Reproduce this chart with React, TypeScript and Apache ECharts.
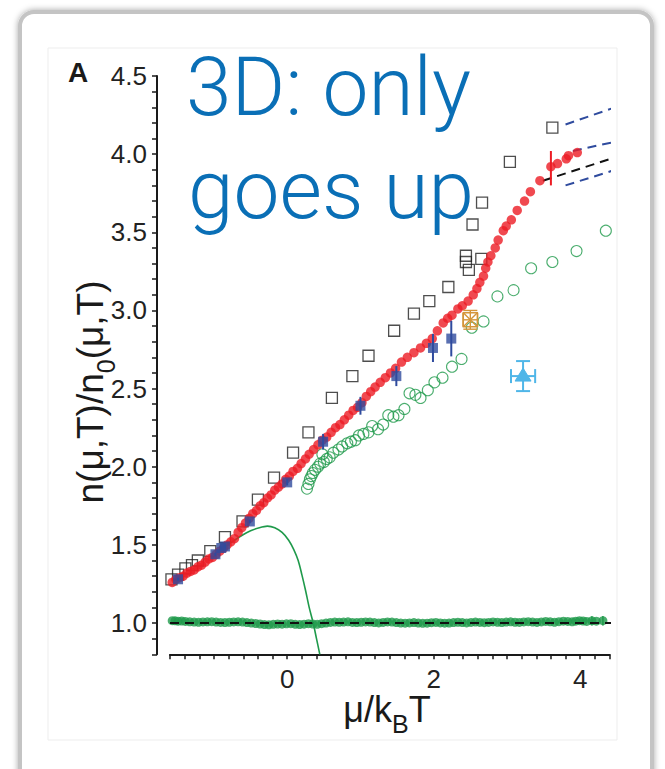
import React, { useEffect, useRef } from "react";
import * as echarts from "echarts";

// Red filled circles: measured density ratio
const redX = [-1.57,-1.52,-1.47,-1.42,-1.37,-1.32,-1.27,-1.22,-1.17,-1.12,-1.07,-1.02,-0.97,-0.92,-0.87,-0.82,-0.77,-0.72,-0.67,-0.62,-0.57,-0.52,-0.47,-0.42,-0.37,-0.32,-0.27,-0.22,-0.17,-0.12,-0.07,-0.02,0.03,0.08,0.14,0.19,0.25,0.30,0.36,0.42,0.48,0.54,0.60,0.66,0.72,0.78,0.84,0.90,0.96,1.02,1.08,1.14,1.20,1.27,1.34,1.41,1.48,1.56,1.64,1.73,1.82,1.90,1.98,2.05,2.13,2.19,2.25,2.33,2.39,2.47,2.54,2.59,2.63,2.68,2.71,2.74,2.78,2.84,2.88,2.95,2.99,3.06,3.14,3.24,3.32,3.45,3.60,3.69,3.81,3.84,3.96];
const redY = [1.26,1.28,1.29,1.30,1.32,1.33,1.34,1.36,1.37,1.39,1.41,1.42,1.44,1.46,1.48,1.50,1.52,1.54,1.58,1.61,1.64,1.67,1.70,1.72,1.75,1.77,1.80,1.82,1.85,1.87,1.89,1.92,1.94,1.97,1.99,2.02,2.05,2.08,2.11,2.14,2.17,2.19,2.22,2.25,2.27,2.30,2.33,2.36,2.38,2.41,2.45,2.48,2.51,2.54,2.57,2.60,2.63,2.67,2.70,2.73,2.76,2.79,2.82,2.87,2.92,2.95,2.97,3.01,3.03,3.06,3.10,3.14,3.18,3.22,3.27,3.31,3.35,3.40,3.45,3.51,3.54,3.58,3.64,3.70,3.76,3.83,3.92,3.94,3.97,3.99,4.01];
// Red vertical error bar: [x, y, xErr, yErr]
const redErr = [[3.6, 3.91, 0, 0.11]];

// Open black squares
const squarePts = [
  [-1.58,1.28],[-1.49,1.31],[-1.39,1.35],[-1.30,1.37],[-1.22,1.40],[-1.05,1.46],[-0.85,1.55],[-0.61,1.65],
  [-0.40,1.79],[-0.18,1.93],[0.08,2.09],[0.29,2.22],[0.61,2.44],[0.89,2.58],[1.11,2.71],[1.46,2.87],
  [1.73,2.98],[1.94,3.06],[2.20,3.15],[2.44,3.31],[2.44,3.35],[2.48,3.26],[2.65,3.33],[2.53,3.55],
  [2.66,3.69],[3.04,3.95],[3.62,4.17],
];

// Blue filled squares with vertical error bars: [x, y, xErr, yErr]
const bluePts = [
  [-1.49,1.28,0,0.01],[-0.98,1.44,0,0.01],[-0.90,1.48,0,0.01],[-0.85,1.49,0,0.01],[-0.51,1.65,0,0.012],
  [0.0,1.90,0,0.02],[0.49,2.16,0,0.05],[1.0,2.39,0,0.057],[1.49,2.58,0,0.064],[1.99,2.76,0,0.09],[2.24,2.82,0,0.114],
];

// Open green circles
const greenOpenPts = [
  [0.27,1.86],[0.29,1.89],[0.31,1.92],[0.33,1.94],[0.35,1.96],[0.38,1.98],[0.42,2.00],[0.45,2.02],[0.48,2.08],
  [0.50,2.03],[0.54,2.05],[0.58,2.06],[0.63,2.09],[0.70,2.11],[0.75,2.13],[0.82,2.15],[0.87,2.16],[0.93,2.17],
  [0.98,2.20],[1.04,2.21],[1.11,2.22],[1.16,2.26],[1.24,2.24],[1.31,2.27],[1.38,2.33],[1.45,2.32],[1.52,2.33],
  [1.60,2.37],[1.67,2.47],[1.75,2.46],[1.82,2.44],[1.92,2.49],[2.01,2.54],[2.12,2.57],[2.25,2.64],[2.38,2.69],
  [2.52,2.89],[2.68,2.93],[2.87,3.09],[3.09,3.13],[3.33,3.27],[3.62,3.31],[3.95,3.38],[4.35,3.51],
];

// Filled green circles along n/n0 = 1
const flatX = [-1.57,-1.53,-1.49,-1.44,-1.39,-1.33,-1.27,-1.21,-1.15,-1.09,-1.03,-0.97,-0.91,-0.85,-0.79,-0.73,-0.67,-0.61,-0.55,-0.49,-0.43,-0.37,-0.31,-0.25,-0.19,-0.13,-0.07,-0.01,0.05,0.11,0.17,0.23,0.29,0.35,0.41,0.47,0.53,0.59,0.65,0.71,0.77,0.83,0.89,0.95,1.01,1.07,1.13,1.19,1.25,1.31,1.37,1.43,1.49,1.55,1.61,1.67,1.73,1.79,1.85,1.91,1.97,2.03,2.09,2.15,2.21,2.27,2.33,2.39,2.45,2.51,2.57,2.63,2.69,2.75,2.81,2.87,2.93,2.99,3.05,3.11,3.17,3.23,3.29,3.35,3.41,3.47,3.53,3.59,3.65,3.71,3.77,3.83,3.89,3.94,3.99,4.04,4.09,4.16,4.22,4.31];
const flatY = [1.015,1.014,1.012,1.013,1.01,1.008,1.006,1.005,1.007,1.008,1.009,1.006,1.004,1.003,1.005,1.007,1.008,1.006,1.003,1.0,0.997,0.994,0.99,0.989,0.992,0.994,0.993,0.995,0.996,0.992,0.99,0.993,0.996,0.994,0.992,0.996,1.0,1.004,1.006,1.005,1.006,1.008,1.004,1.003,1.005,1.007,1.006,1.003,1.001,1.004,1.007,1.006,1.003,1.0,0.999,1.001,1.003,1.0,0.998,0.999,1.002,1.004,1.001,0.999,1.0,1.003,1.005,1.003,1.001,1.004,1.006,1.004,1.002,1.004,1.007,1.005,1.003,1.006,1.008,1.005,1.004,1.007,1.009,1.006,1.004,1.007,1.01,1.008,1.005,1.009,1.012,1.01,1.008,1.012,1.015,1.013,1.01,1.014,1.012,1.015];
const flatErr = [[4.16, 1.014, 0, 0.03], [4.31, 1.015, 0, 0.03]];

// Thin green curve
const curvePts = [
  [-0.85,1.49],[-0.75,1.52],[-0.62,1.56],[-0.5,1.59],[-0.38,1.61],[-0.27,1.62],[-0.17,1.61],[-0.07,1.58],
  [0.02,1.53],[0.09,1.47],[0.15,1.40],[0.20,1.31],[0.25,1.21],[0.30,1.10],[0.355,1.0],[0.40,0.90],[0.445,0.80],
];

// Single points with error bars: [x, y, xErr, yErr]
const orangePt = [[2.5, 2.94, 0.1, 0.06]];
const trianglePt = [[3.22, 2.58, 0.165, 0.096]];

// Dashed reference lines
const unityLine = [[-1.6, 1.0], [4.48, 1.0]];
const blackDash = [[3.49, 3.83], [4.48, 3.98]];
const blueDashUpper = [[3.80, 4.19], [4.48, 4.30]];
const blueDashMiddle = [[3.90, 4.02], [4.48, 4.08]];
const blueDashLower = [[3.80, 3.80], [4.48, 3.90]];

// Axis ranges and labels
const X_MIN = -1.6, X_MAX = 4.4, X_STEP = 0.2;
const Y_MIN = 0.8, Y_MAX = 4.5, Y_STEP = 0.1;
const xLabelValues = [0, 2, 4];
const yLabelValues = [1.0, 1.5, 2.0, 2.5, 3.0, 3.5, 4.0, 4.5];

const FONT = "'Liberation Sans', Arial, Helvetica, sans-serif";
const TITLE_FONT = "Roboto, 'Liberation Sans', sans-serif";
const RED = "#ec1c24";
const BLUE = "#2f4b9e";
const GREEN = "#1f9a4b";
const ORANGE = "#d4953a";
const SKY = "#4fb6e8";

type Marker = "none" | "boxX" | "triangle";

function errorBarRenderer(color: string, cap: number, marker: Marker, lw: number) {
  return (params: any, api: any) => {
    const x = api.value(0), y = api.value(1), ex = api.value(2), ey = api.value(3);
    const c = api.coord([x, y]);
    const children: any[] = [];
    const style = { stroke: color, lineWidth: lw, fill: "none" };
    if (ey > 0) {
      const t = api.coord([x, y + ey]);
      const b = api.coord([x, y - ey]);
      children.push({ type: "line", shape: { x1: t[0], y1: t[1], x2: b[0], y2: b[1] }, style });
      if (cap > 0) {
        children.push({ type: "line", shape: { x1: t[0] - cap, y1: t[1], x2: t[0] + cap, y2: t[1] }, style });
        children.push({ type: "line", shape: { x1: b[0] - cap, y1: b[1], x2: b[0] + cap, y2: b[1] }, style });
      }
    }
    if (ex > 0) {
      const l = api.coord([x - ex, y]);
      const r = api.coord([x + ex, y]);
      children.push({ type: "line", shape: { x1: l[0], y1: l[1], x2: r[0], y2: r[1] }, style });
      if (cap > 0) {
        children.push({ type: "line", shape: { x1: l[0], y1: l[1] - cap, x2: l[0], y2: l[1] + cap }, style });
        children.push({ type: "line", shape: { x1: r[0], y1: r[1] - cap, x2: r[0], y2: r[1] + cap }, style });
      }
    }
    if (marker === "boxX") {
      const h = 7;
      children.push({ type: "rect", shape: { x: c[0] - h, y: c[1] - h, width: 2 * h, height: 2 * h }, style });
      children.push({ type: "line", shape: { x1: c[0] - h, y1: c[1] - h, x2: c[0] + h, y2: c[1] + h }, style });
      children.push({ type: "line", shape: { x1: c[0] + h, y1: c[1] - h, x2: c[0] - h, y2: c[1] + h }, style });
    } else if (marker === "triangle") {
      children.push({
        type: "polygon",
        shape: { points: [[c[0], c[1] - 8], [c[0] + 8, c[1] + 5], [c[0] - 8, c[1] + 5]] },
        style: { fill: color, stroke: color, lineWidth: 1 },
      });
    }
    return { type: "group", children };
  };
}

function zip(xs: number[], ys: number[]) {
  return xs.map((x, i) => [x, ys[i]]);
}

export default function App() {
  const ref = useRef<HTMLDivElement>(null);

  useEffect(() => {
    if (!ref.current) return;
    const chart = echarts.init(ref.current, undefined, { renderer: "svg" });

    const dashed = (data: number[][], color: string, z: number) => ({
      type: "line",
      data,
      symbol: "none",
      clip: false,
      silent: true,
      z,
      lineStyle: { color, width: 2, type: [9, 6] },
    });

    const axisNameRich = (size: number, sub: number) => ({
      a: { fontFamily: FONT, fontSize: size, fill: "#1a1a1a", verticalAlign: "bottom", padding: [0, 0, 9, 0] },
      s: { fontFamily: FONT, fontSize: sub, fill: "#1a1a1a", verticalAlign: "bottom" },
    });

    const option: any = {
      animation: false,
      backgroundColor: "#ffffff",
      grid: { left: 170, right: 55.5, top: 76, bottom: 114.7, containLabel: false },
      xAxis: {
        type: "value",
        min: X_MIN,
        max: X_MAX,
        interval: X_STEP,
        splitLine: { show: false },
        axisLine: { show: true, onZero: false, lineStyle: { color: "#1a1a1a", width: 2 } },
        axisTick: { show: true, inside: false, length: 5, lineStyle: { color: "#1a1a1a", width: 1.5 } },
        axisLabel: {
          interval: 0,
          hideOverlap: false,
          margin: 12,
          color: "#222",
          fontFamily: FONT,
          fontSize: 26,
          formatter: (v: number) => {
            const hit = xLabelValues.find((t) => Math.abs(t - v) < 1e-6);
            return hit === undefined ? "" : String(hit);
          },
        },
      },
      yAxis: {
        type: "value",
        min: Y_MIN,
        max: Y_MAX,
        interval: Y_STEP,
        offset: 13,
        splitLine: { show: false },
        axisLine: { show: true, onZero: false, lineStyle: { color: "#1a1a1a", width: 2 } },
        axisTick: { show: true, inside: false, length: 5, lineStyle: { color: "#1a1a1a", width: 1.5 } },
        axisLabel: {
          interval: 0,
          hideOverlap: false,
          margin: 10,
          color: "#222",
          fontFamily: FONT,
          fontSize: 26,
          formatter: (v: number) => {
            const hit = yLabelValues.find((t) => Math.abs(t - v) < 1e-6);
            return hit === undefined ? "" : hit.toFixed(1);
          },
        },
      },
      graphic: [
        {
          type: "rect",
          z: -20,
          silent: true,
          shape: { x: 20, y: 12, width: 632, height: 830, r: 14 },
          style: { fill: "#ffffff", stroke: "#c4c4c4", lineWidth: 4, shadowBlur: 6, shadowColor: "rgba(0,0,0,0.35)" },
        },
        {
          type: "rect",
          z: -19,
          silent: true,
          shape: { x: 48, y: 48, width: 569, height: 692 },
          style: { fill: "#ffffff", stroke: "#ededed", lineWidth: 1 },
        },
        {
          type: "text",
          x: 68,
          y: 58,
          style: { text: "A", fontFamily: FONT, fontWeight: "bold", fontSize: 28, fill: "#1a1a1a" },
        },
        {
          type: "text",
          x: 186,
          y: 46,
          style: { text: "3D: only", fontFamily: TITLE_FONT, fontWeight: 300, fontSize: 82, fill: "#0a6fb6" },
        },
        {
          type: "text",
          x: 188,
          y: 149,
          style: { text: "goes up", fontFamily: TITLE_FONT, fontWeight: 300, fontSize: 82, fill: "#0a6fb6" },
        },
        {
          type: "text",
          x: 387,
          y: 714,
          style: {
            text: "{a|μ/k}{s|B}{a|T}",
            align: "center",
            verticalAlign: "middle",
            rich: axisNameRich(36, 25),
          },
        },
        {
          type: "text",
          x: 95,
          y: 392,
          rotation: Math.PI / 2,
          style: {
            text: "{a|n(μ,T)/n}{s|0}{a|(μ,T)}",
            align: "center",
            verticalAlign: "middle",
            rich: axisNameRich(37, 25),
          },
        },
      ],
      series: [
        {
          type: "scatter",
          data: zip(flatX, flatY),
          symbol: "circle",
          symbolSize: 9,
          itemStyle: { color: GREEN },
          z: 2,
        },
        {
          type: "custom",
          data: flatErr,
          renderItem: errorBarRenderer(GREEN, 0, "none", 1.5),
          z: 2,
        },
        dashed(unityLine, "#111111", 3),
        {
          type: "line",
          data: curvePts,
          symbol: "none",
          smooth: 0.3,
          clip: true,
          z: 3,
          lineStyle: { color: GREEN, width: 1.6 },
        },
        {
          type: "scatter",
          data: greenOpenPts,
          symbol: "circle",
          symbolSize: 11,
          itemStyle: { color: "rgba(255,255,255,0)", borderColor: GREEN, borderWidth: 1.1 },
          z: 3,
        },
        {
          type: "scatter",
          data: squarePts,
          symbol: "rect",
          symbolSize: 11,
          itemStyle: { color: "rgba(255,255,255,0)", borderColor: "#222222", borderWidth: 1.3 },
          z: 3,
        },
        dashed(blackDash, "#111111", 3),
        dashed(blueDashUpper, BLUE, 3),
        dashed(blueDashMiddle, BLUE, 3),
        dashed(blueDashLower, BLUE, 3),
        {
          type: "custom",
          data: redErr,
          renderItem: errorBarRenderer(RED, 0, "none", 2),
          z: 4,
        },
        {
          type: "scatter",
          data: zip(redX, redY),
          symbol: "circle",
          symbolSize: 9.5,
          itemStyle: { color: RED },
          z: 4,
        },
        {
          type: "custom",
          data: bluePts,
          renderItem: errorBarRenderer(BLUE, 0, "none", 2),
          z: 5,
        },
        {
          type: "scatter",
          data: bluePts.map((p) => [p[0], p[1]]),
          symbol: "rect",
          symbolSize: 10,
          itemStyle: { color: BLUE },
          z: 5,
        },
        {
          type: "custom",
          data: orangePt,
          renderItem: errorBarRenderer(ORANGE, 7, "boxX", 1.4),
          z: 5,
        },
        {
          type: "custom",
          data: trianglePt,
          renderItem: errorBarRenderer(SKY, 7, "triangle", 2),
          z: 5,
        },
      ],
    };

    chart.setOption(option);
    return () => chart.dispose();
  }, []);

  return (
    <div
      ref={ref}
      style={{ position: "absolute", left: 0, top: 0, width: 665, height: 769, background: "#ffffff" }}
    />
  );
}
